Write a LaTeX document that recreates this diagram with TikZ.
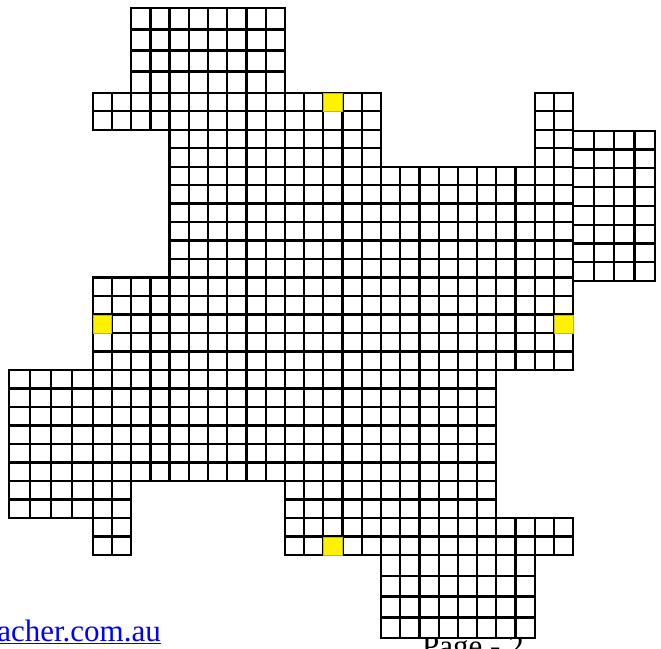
\documentclass[tikz,border=0pt]{standalone}
\usepackage{fontspec}
\setmainfont{Liberation Serif}
\definecolor{linkblue}{RGB}{0,0,255}
\tikzset{
  gridline/.style={draw=black,line width=2.3pt},
  hole/.style={fill=yellow,draw=yellow!70!black,line width=0.5pt},
  foottext/.style={inner sep=0pt,font=\fontsize{31}{37}\selectfont}
}
% x0, dx, i0, i1, y0, dy, j0, j1
\newcommand\mycells[8]{%
  \foreach \i in {#3,...,#4}{\foreach \j in {#7,...,#8}{%
    \draw[gridline] ({#1+\i*#2},{#5+\j*#6}) rectangle ({#1+(\i+1)*#2},{#5+(\j+1)*#6});}}}
\newcommand\maincells[4]{\mycells{92.7}{19.22}{#1}{#2}{92.7}{18.49}{#3}{#4}}
\newcommand\yellowcell[2]{\filldraw[hole] ({92.7+#1*19.22+0.4},{92.7+#2*18.49+0.4}) rectangle ++(18.6,17.9);}
\begin{document}
\begin{tikzpicture}[x=1pt,y=-1pt]
\useasboundingbox (0,0) rectangle (661,648);
% footer texts
\node[foottext,anchor=base east,text=linkblue] (url) at (161,641) {\underline{acher.com.au}};
\node[foottext,anchor=base west] (page) at (422,656) {Page - 2};
% white cover of the bottom block
\fill[white] (381,555) rectangle (534.76,638.3);
% main grid
\maincells{0}{14}{0}{1}
\maincells{23}{24}{0}{3}
\maincells{4}{14}{2}{3}
\maincells{4}{24}{4}{9}
\maincells{0}{24}{10}{14}
\maincells{0}{20}{15}{20}
\maincells{0}{1}{21}{24}
\maincells{10}{20}{21}{22}
\maincells{10}{24}{23}{24}
% top block
\mycells{131.14}{19.22}{0}{7}{8.3}{21.1}{0}{3}
% left block
\mycells{9.3}{20.85}{0}{3}{370.05}{18.49}{0}{7}
% right block
\mycells{573.3}{20.43}{0}{3}{130.7}{18.79}{0}{7}
% bottom block
\mycells{381}{19.22}{0}{7}{554.95}{20.83}{0}{3}
% yellow cells
\yellowcell{12}{0}
\yellowcell{0}{12}
\yellowcell{24}{12}
\yellowcell{12}{24}
\end{tikzpicture}
\end{document}
